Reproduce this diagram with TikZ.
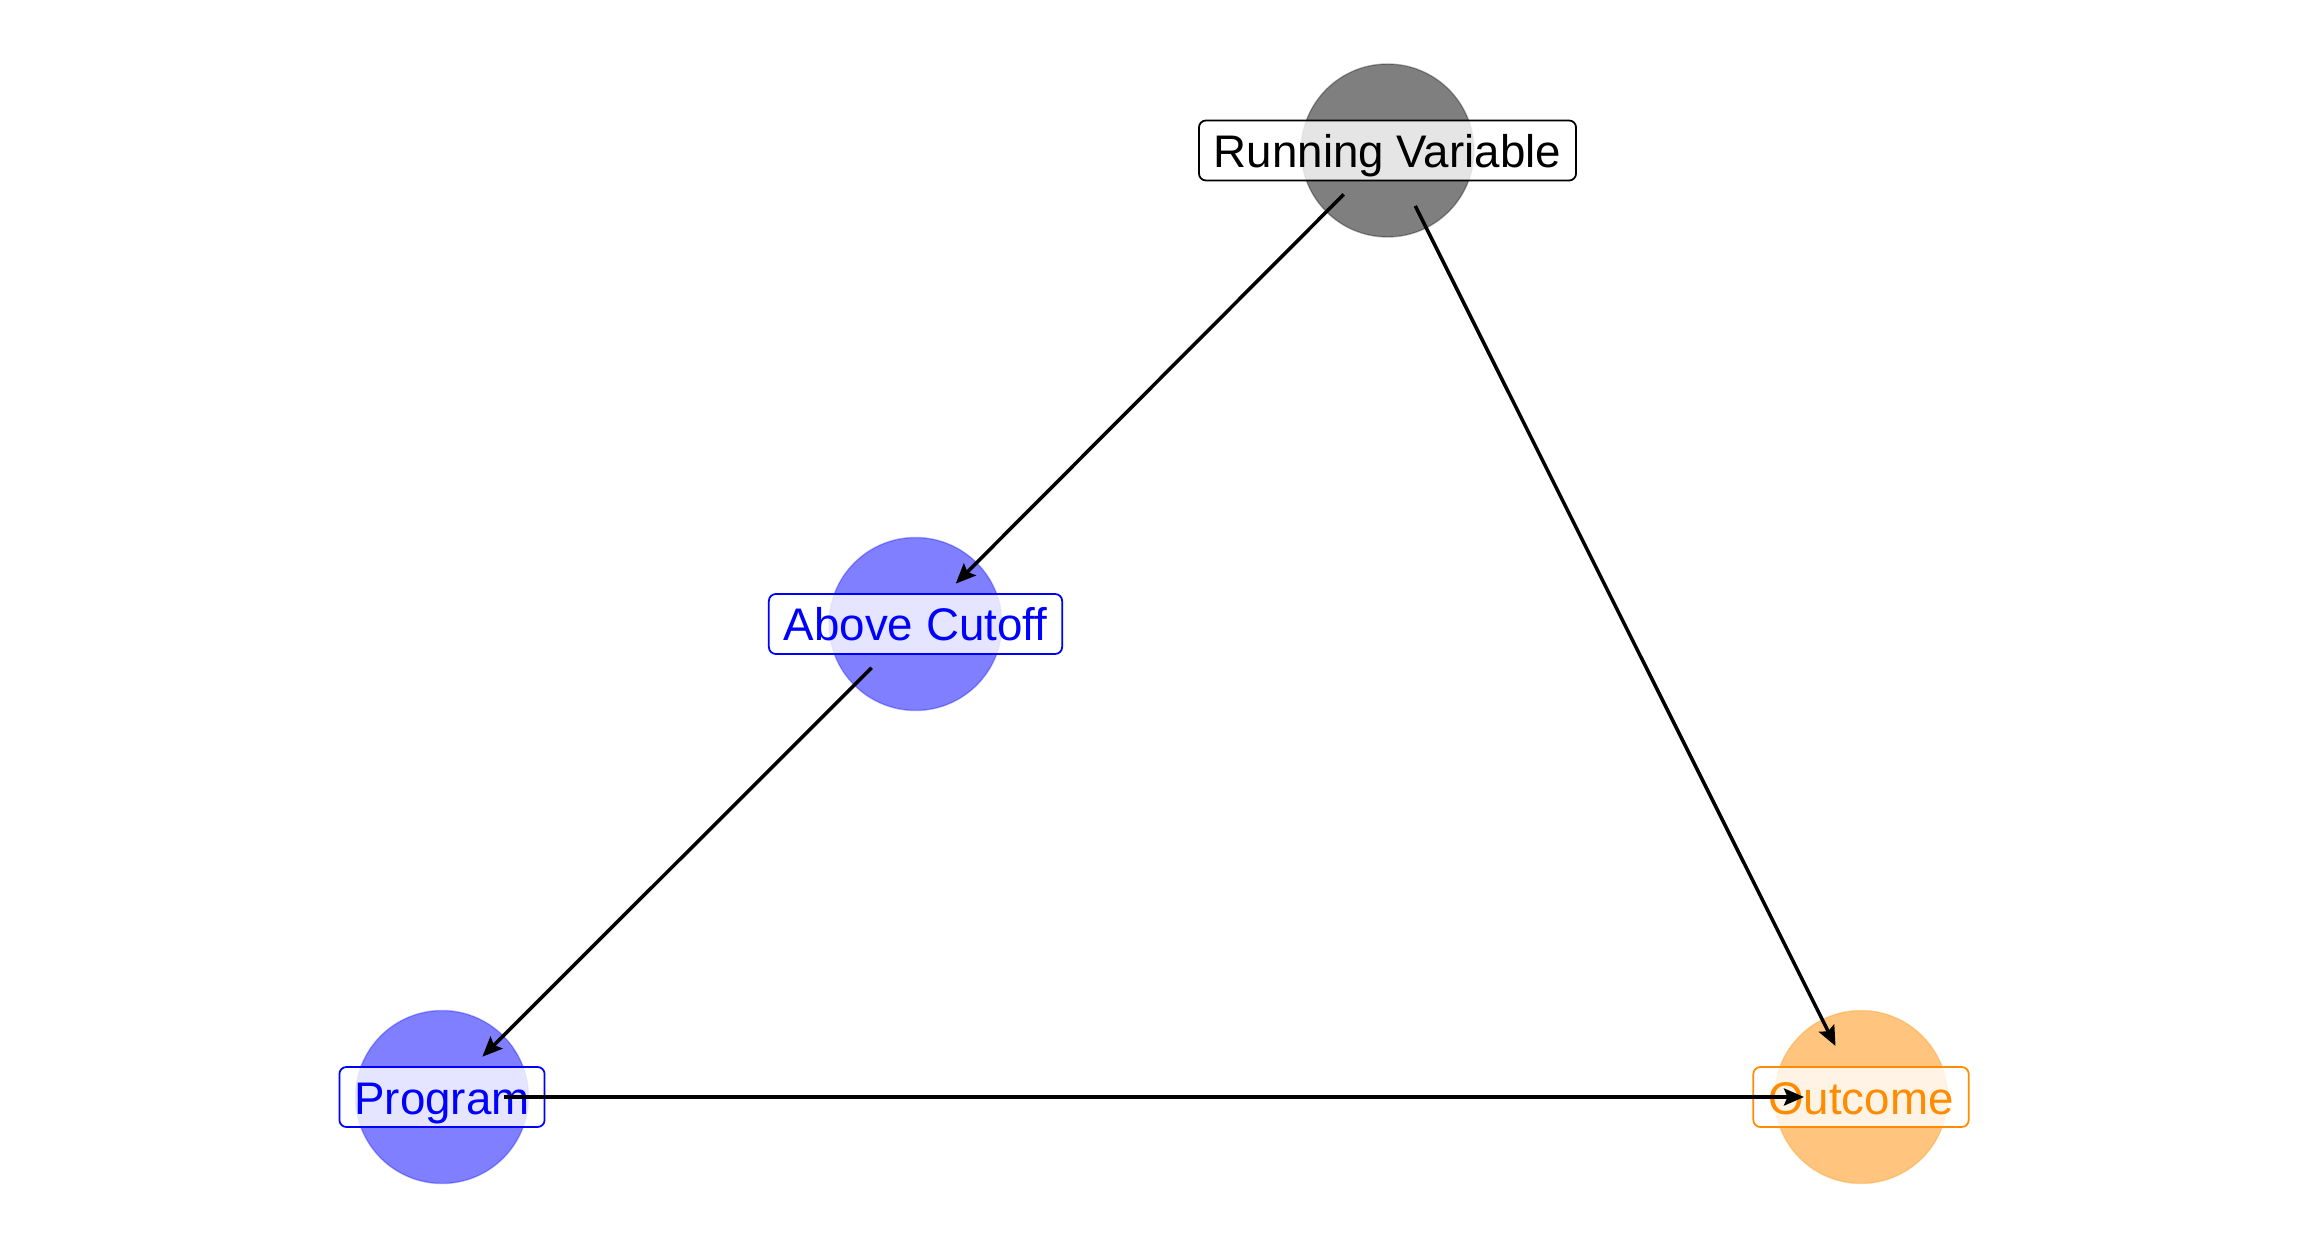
\documentclass[tikz,border=0pt]{standalone}
\usepackage{fontspec}
\setmainfont{Liberation Sans}
\usepackage{xcolor}
\usepackage{tikz}
\usetikzlibrary{arrows.meta, calc}

\definecolor{darkorange}{HTML}{FF8C00}

\begin{document}
\begin{tikzpicture}[
    dot/.style={circle, minimum size=1.73cm, inner sep=0pt,
      fill=#1, fill opacity=0.5, draw=#1, draw opacity=0.3, line width=0.4pt},
    lbl/.style={draw=#1, text=#1, fill=white, fill opacity=0.8, text opacity=1,
      rounded corners=2pt, line width=0.5pt, inner xsep=0.15cm, inner ysep=0.085cm,
      text height=0.385cm, text depth=0.045cm,
      font=\fontsize{13}{15}\selectfont},
    link/.style={-{Stealth[length=0.2cm, width=0.17cm, inset=0.035cm]},
      line width=1pt, shorten <=0.62cm, shorten >=0.57cm}
  ]
  \useasboundingbox (0,0) rectangle (23.04,-12.48);
  % circles
  \node[dot=black] (rv) at (13.875,-1.505) {};
  \node[dot=blue] (ac) at (9.155,-6.24) {};
  \node[dot=blue] (prog) at (4.42,-10.97) {};
  \node[dot=darkorange] (out) at (18.61,-10.97) {};
  % labels
  \node[lbl=black] (rv-l) at (rv) {Running Variable};
  \node[lbl=blue] (ac-l) at (ac) {Above Cutoff};
  \node[lbl=blue] (prog-l) at (prog) {Program};
  \node[lbl=darkorange] (out-l) at (out) {Outcome};
  \path[link]
    (rv.center) edge (ac.center)
    (rv.center) edge (out.center)
    (ac.center) edge (prog.center)
    (prog.center) edge (out.center);
\end{tikzpicture}
\end{document}
